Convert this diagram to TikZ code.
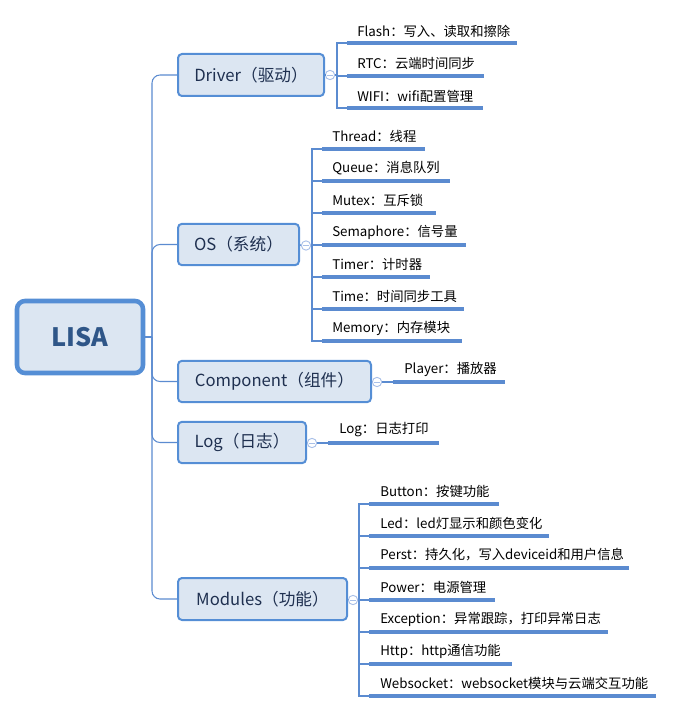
\documentclass[tikz,border=0pt]{standalone}
\usepackage{fontspec}
\setmainfont{Noto Sans CJK SC}
\definecolor{bord}{HTML}{558ED5}
\definecolor{boxfill}{HTML}{DCE6F2}
\definecolor{lin}{HTML}{5B8BD0}
\definecolor{circ}{HTML}{A9C0E8}
\definecolor{btext}{HTML}{1F3050}
\definecolor{rtext}{HTML}{2F5688}
\tikzset{
  rootbox/.style={draw=bord, line width=3.4pt, fill=boxfill, rounded corners=6pt, text=rtext, font=\fontsize{19}{22}\selectfont\bfseries, inner sep=0pt},
  branch/.style={draw=bord, line width=1.5pt, fill=boxfill, rounded corners=3pt, text=btext, font=\fontsize{12.5}{15}\selectfont, inner sep=0pt},
  leaf/.style={anchor=west, text=black, font=\fontsize{10}{12}\selectfont, inner sep=0pt},
  trunk/.style={draw=lin, line width=0.8pt},
  uline/.style={draw=lin, line width=2.3pt},
  tog/.style={circle, draw=circ, fill=white, line width=0.7pt, minimum size=7pt, inner sep=0pt,
     path picture={\draw[circ, line width=0.6pt] ([xshift=-2pt]path picture bounding box.center) -- ([xshift=2pt]path picture bounding box.center);}},
}
\begin{document}
\begin{tikzpicture}[x=0.75pt, y=-0.75pt]
\useasboundingbox (0,0) rectangle (673,713);
% root
\node[rootbox, minimum width=94.5pt, minimum height=54pt] (root) at (80,337) {LISA};
% branches
\node[branch, minimum width=109.5pt, minimum height=31.5pt, anchor=west] (drv) at (177,75) {Driver（驱动）};
\node[branch, minimum width=90.75pt, minimum height=31pt, anchor=west] (os) at (177,244.5) {OS（系统）};
\node[branch, minimum width=144.75pt, minimum height=31pt, anchor=west] (cmp) at (177,381.5) {Component（组件）};
\node[branch, minimum width=96pt, minimum height=31pt, anchor=west] (log) at (177,442.5) {Log（日志）};
\node[branch, minimum width=126.75pt, minimum height=31.5pt, anchor=west] (mod) at (177,599) {Modules（功能）};
% trunk
\coordinate (tr) at (152,337);
\draw[trunk] (root.east) -- (tr);
\draw[trunk, rounded corners=6pt] (tr) |- (drv.west);
\draw[trunk, rounded corners=6pt] (tr) |- (os.west);
\draw[trunk, rounded corners=6pt] (tr) |- (cmp.west);
\draw[trunk, rounded corners=6pt] (tr) |- (log.west);
\draw[trunk, rounded corners=6pt] (tr) |- (mod.west);
% ---------- Driver
\node[tog] (tdrv) at (330,75) {};
\draw[trunk] (drv.east) -- (tdrv.west);
\coordinate (vd) at (337,75);
\draw[trunk] (tdrv.east) -- (vd);
\coordinate (d1s) at (347,43); \coordinate (d1e) at (517,43);
\coordinate (d2s) at (347,76); \coordinate (d2e) at (484,76);
\coordinate (d3s) at (347,108); \coordinate (d3e) at (483,108);
\draw[trunk] (vd) |- (d1s); \draw[trunk] (vd) |- (d2s); \draw[trunk] (vd) |- (d3s);
\draw[uline] (d1s) -- (d1e); \draw[uline] (d2s) -- (d2e); \draw[uline] (d3s) -- (d3e);
\node[leaf] (d1) at (357,31) {Flash：写入、读取和擦除};
\node[leaf] (d2) at (357,63.5) {RTC：云端时间同步};
\node[leaf] (d3) at (357,96) {WIFI：wifi配置管理};
% ---------- OS
\node[tog] (tos) at (306,245.5) {};
\draw[trunk] (os.east) -- (tos.west);
\coordinate (vo) at (312,245.5);
\draw[trunk] (tos.east) -- (vo);
\foreach \n/\y/\e in {1/149/425, 2/181/450, 3/213/436, 4/245/466, 5/277/430, 6/309/464, 7/341/462}{
  \coordinate (o\n s) at (322,\y); \coordinate (o\n e) at (\e,\y);
  \draw[trunk] (vo) |- (o\n s);
  \draw[uline] (o\n s) -- (o\n e);
}
\node[leaf] (o1) at (332,136) {Thread：线程};
\node[leaf] (o2) at (332,168) {Queue：消息队列};
\node[leaf] (o3) at (332,200) {Mutex：互斥锁};
\node[leaf] (o4) at (332,232) {Semaphore：信号量};
\node[leaf] (o5) at (332,264) {Timer：计时器};
\node[leaf] (o6) at (332,296) {Time：时间同步工具};
\node[leaf] (o7) at (332,328) {Memory：内存模块};
% ---------- Component
\node[tog] (tcmp) at (377,382) {};
\draw[trunk] (cmp.east) -- (tcmp.west);
\coordinate (c1s) at (393,382); \coordinate (c1e) at (505,382);
\draw[trunk] (tcmp.east) -- (c1s);
\draw[uline] (c1s) -- (c1e);
\node[leaf] (c1) at (404,369.5) {Player：播放器};
% ---------- Log
\node[tog] (tlog) at (312,443) {};
\draw[trunk] (log.east) -- (tlog.west);
\coordinate (l1s) at (328,443); \coordinate (l1e) at (439,443);
\draw[trunk] (tlog.east) -- (l1s);
\draw[uline] (l1s) -- (l1e);
\node[leaf] (l1) at (339,430) {Log：日志打印};
% ---------- Modules
\node[tog] (tmod) at (353,600) {};
\draw[trunk] (mod.east) -- (tmod.west);
\coordinate (vm) at (359,600);
\draw[trunk] (tmod.east) -- (vm);
\foreach \n/\y/\e in {1/504/499, 2/536/549, 3/568/629, 4/600/495, 5/632/608, 6/664/512, 7/696/656}{
  \coordinate (m\n s) at (369,\y); \coordinate (m\n e) at (\e,\y);
  \draw[trunk] (vm) |- (m\n s);
  \draw[uline] (m\n s) -- (m\n e);
}
\node[leaf] (m1) at (380,491) {Button：按键功能};
\node[leaf] (m2) at (380,523) {Led：led灯显示和颜色变化};
\node[leaf] (m3) at (380,555) {Perst：持久化，写入deviceid和用户信息};
\node[leaf] (m4) at (380,587) {Power：电源管理};
\node[leaf] (m5) at (380,619) {Exception：异常跟踪，打印异常日志};
\node[leaf] (m6) at (380,651) {Http：http通信功能};
\node[leaf] (m7) at (380,683) {Websocket：websocket模块与云端交互功能};
\end{tikzpicture}
\end{document}
